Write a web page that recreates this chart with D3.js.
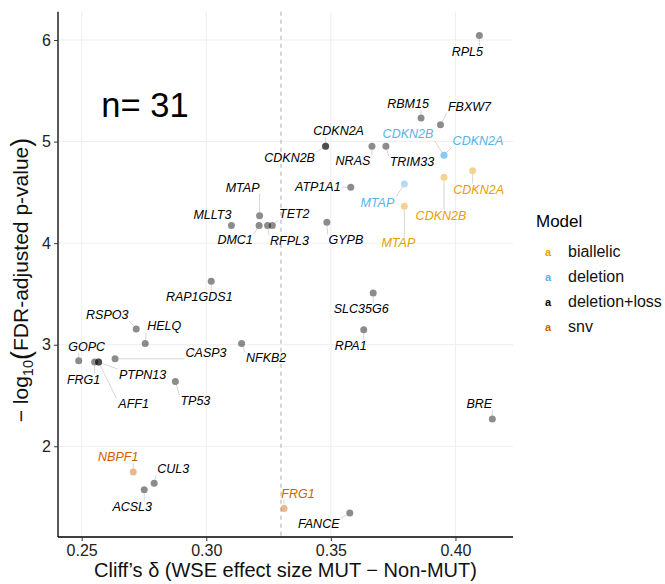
<!DOCTYPE html>
<html>
<head>
<meta charset="utf-8">
<script src="https://d3js.org/d3.v7.min.js"></script>
<style>
  body { margin: 0; background: #fff; }
  svg text { font-family: "Liberation Sans", Arial, Helvetica, sans-serif; }
</style>
</head>
<body>
<svg class="chart"></svg>
<script>
// genes, the model they come from, effect size and -log10 FDR
var genes = ["RPL5", "RBM15", "FBXW7", "CDKN2A", "CDKN2B", "NRAS", "TRIM33", "CDKN2B", "CDKN2A",
  "CDKN2A", "CDKN2B", "MTAP", "MTAP", "ATP1A1", "MTAP", "MLLT3", "DMC1", "RFPL3", "TET2", "GYPB",
  "RAP1GDS1", "SLC35G6", "RSPO3", "HELQ", "RPA1", "NFKB2", "GOPC", "CASP3", "FRG1", "PTPN13",
  "AFF1", "TP53", "BRE", "NBPF1", "CUL3", "ACSL3", "FRG1", "FANCE"];

var models = ["deletion+loss", "deletion+loss", "deletion+loss", "deletion+loss", "deletion+loss",
  "deletion+loss", "deletion+loss", "deletion", "deletion", "biallelic", "biallelic", "deletion",
  "biallelic", "deletion+loss", "deletion+loss", "deletion+loss", "deletion+loss", "deletion+loss",
  "deletion+loss", "deletion+loss", "deletion+loss", "deletion+loss", "deletion+loss", "deletion+loss",
  "deletion+loss", "deletion+loss", "deletion+loss", "deletion+loss", "deletion+loss", "deletion+loss",
  "deletion+loss", "deletion+loss", "deletion+loss", "snv", "deletion+loss", "deletion+loss", "snv",
  "deletion+loss"];

var cliffDelta = [0.4096, 0.3862, 0.3940, 0.3479, 0.3479, 0.3665, 0.3721, 0.3954, 0.3954,
  0.4069, 0.3954, 0.3795, 0.3795, 0.3580, 0.3214, 0.3101, 0.3212, 0.3246, 0.3265, 0.3484,
  0.3020, 0.3670, 0.2719, 0.2755, 0.3632, 0.3142, 0.2488, 0.2634, 0.2552, 0.2568,
  0.2568, 0.2876, 0.4148, 0.2707, 0.2791, 0.2751, 0.3312, 0.3576];

var negLogFdr = [6.044, 5.233, 5.167, 4.954, 4.954, 4.954, 4.954, 4.865, 4.865,
  4.714, 4.648, 4.583, 4.363, 4.550, 4.271, 4.175, 4.175, 4.175, 4.175, 4.205,
  3.624, 3.509, 3.155, 3.013, 3.148, 3.013, 2.842, 2.862, 2.829, 2.829,
  2.829, 2.638, 2.268, 1.746, 1.637, 1.571, 1.387, 1.342];

var modelNames = ["biallelic", "deletion", "deletion+loss", "snv"];
var modelColors = ["#E69F00", "#56B4E9", "#000000", "#D55E00"];
var xTicks = [0.25, 0.30, 0.35, 0.40];
var yTicks = [2, 3, 4, 5, 6];
var cutoff = 0.33;
var nGenes = 31;

// where the repelled labels ended up, pixels from their point (dx, dy of baseline centre)
var labelNudge = [[-12, 20], [-13, -10], [29, -14], [13, -11], [-36, 16], [-19, 19], [26, 20],
  [-36, -17], [34, -10], [6, 23], [-3, 43], [-27, 23], [-6, 41], [-33, 4], [-17, -24], [-19, -6],
  [-24, 19], [22, 20], [22, -7], [19, 22], [-12, 20], [-12, 20], [-29, -10], [19, -13], [-13, 20],
  [24.5, 19], [8, -10], [91, -2], [-11, 22], [44, 17], [35, 46], [20, 24], [-13, -11], [-15, -11],
  [19, -10], [-12, 21], [14, -11], [-31, 15]];

var width = 665, height = 584;
var plotLeft = 58, plotRight = 513, plotTop = 11.7, plotBottom = 537;

var svg = d3.select(".chart")
    .attr("width", width)
    .attr("height", height);

var color = d3.scaleOrdinal().domain(modelNames).range(modelColors);

// 5% expansion like ggplot
var xExt = d3.extent(cliffDelta), yExt = d3.extent(negLogFdr);
var xPad = (xExt[1] - xExt[0]) * 0.05, yPad = (yExt[1] - yExt[0]) * 0.05;

var x = d3.scaleLinear()
    .domain([xExt[0] - xPad, xExt[1] + xPad])
    .range([plotLeft, plotRight]);

var y = d3.scaleLinear()
    .domain([yExt[0] - yPad, yExt[1] + yPad])
    .range([plotBottom, plotTop]);

// grid
svg.append("g").selectAll("line")
    .data(xTicks)
    .join("line")
    .attr("x1", d => x(d)).attr("x2", d => x(d))
    .attr("y1", plotTop).attr("y2", plotBottom)
    .attr("stroke", "#eeeeee").attr("stroke-width", 1);

svg.append("g").selectAll("line")
    .data(yTicks)
    .join("line")
    .attr("x1", plotLeft).attr("x2", plotRight)
    .attr("y1", d => y(d)).attr("y2", d => y(d))
    .attr("stroke", "#eeeeee").attr("stroke-width", 1);

// cutoff line
svg.append("line")
    .attr("x1", x(cutoff)).attr("x2", x(cutoff))
    .attr("y1", plotTop).attr("y2", plotBottom)
    .attr("stroke", "#b3b3b3")
    .attr("stroke-width", 1.1)
    .attr("stroke-dasharray", "4,4");

var pts = genes.map(function(g, i) {
  return { gene: g, model: models[i], px: x(cliffDelta[i]), py: y(negLogFdr[i]),
    lx: x(cliffDelta[i]) + labelNudge[i][0], ly: y(negLogFdr[i]) + labelNudge[i][1] };
});

var segLayer = svg.append("g");
var pointLayer = svg.append("g");
var labelLayer = svg.append("g");

pointLayer.selectAll("circle")
    .data(pts)
    .join("circle")
    .attr("cx", d => d.px)
    .attr("cy", d => d.py)
    .attr("r", 3.5)
    .attr("fill", d => color(d.model))
    .attr("fill-opacity", 0.45);

var labels = labelLayer.selectAll("text")
    .data(pts)
    .join("text")
    .attr("x", d => d.lx)
    .attr("y", d => d.ly)
    .attr("text-anchor", "middle")
    .style("font-size", "12.5px")
    .style("font-style", "italic")
    .style("fill", d => color(d.model))
    .text(d => d.gene);

// segments from point to nearest edge of the label box
labels.each(function(d) {
  var b = this.getBBox();
  var x0 = b.x - 1, x1 = b.x + b.width + 1, y0 = b.y + 1, y1 = b.y + b.height - 1;
  var cx = Math.max(x0, Math.min(d.px, x1));
  var cy = Math.max(y0, Math.min(d.py, y1));
  var dx = cx - d.px, dy = cy - d.py;
  var len = Math.sqrt(dx * dx + dy * dy);
  if (len < 6) return;
  segLayer.append("line")
      .attr("x1", d.px + dx / len * 3.5)
      .attr("y1", d.py + dy / len * 3.5)
      .attr("x2", cx)
      .attr("y2", cy)
      .attr("stroke", "#c4c4c4")
      .attr("stroke-width", 0.7);
});

// axes
var xAxis = svg.append("g")
    .attr("transform", "translate(0," + plotBottom + ")")
    .call(d3.axisBottom(x).tickValues(xTicks).tickFormat(d3.format(".2f")).tickSize(4).tickSizeOuter(0));

var yAxis = svg.append("g")
    .attr("transform", "translate(" + plotLeft + ",0)")
    .call(d3.axisLeft(y).tickValues(yTicks).tickFormat(d3.format("d")).tickSize(4).tickSizeOuter(0));

[xAxis, yAxis].forEach(function(a) {
  a.select(".domain").attr("stroke", "#000").attr("stroke-width", 1.3);
  a.selectAll(".tick line").attr("stroke", "#333").attr("stroke-width", 1);
  a.selectAll(".tick text")
      .style("font-size", "16px")
      .style("font-family", "Liberation Sans, Arial, sans-serif")
      .attr("fill", "#222");
});
xAxis.select(".domain").attr("d", "M" + plotLeft + ",0H" + plotRight);
yAxis.select(".domain").attr("d", "M0," + plotTop + "V" + plotBottom);
xAxis.selectAll(".tick text").attr("dy", "0.71em").attr("y", 8);
yAxis.selectAll(".tick text").attr("x", -7);

// axis titles
svg.append("text")
    .attr("x", (plotLeft + plotRight) / 2)
    .attr("y", 577)
    .attr("text-anchor", "middle")
    .style("font-size", "20px")
    .style("fill", "#111")
    .text("Cliff\u2019s \u03b4 (WSE effect size MUT \u2212 Non-MUT)");

var yTitle = svg.append("text")
    .attr("transform", "translate(28,280) rotate(-90)")
    .attr("text-anchor", "middle")
    .style("font-size", "21px")
    .style("fill", "#111");
yTitle.append("tspan").text("\u2212 log");
yTitle.append("tspan").attr("dy", 5).style("font-size", "14.5px").text("10");
yTitle.append("tspan").attr("dy", -3).style("font-size", "27px").text("(");
yTitle.append("tspan").attr("dy", -2).text("FDR-adjusted p-value");
yTitle.append("tspan").attr("dy", 2).style("font-size", "27px").text(")");

// n label
svg.append("text")
    .attr("x", 145)
    .attr("y", 117)
    .attr("text-anchor", "middle")
    .style("font-size", "34.5px")
    .style("fill", "#000")
    .text("n= " + nGenes);

// legend
var legend = svg.append("g").attr("transform", "translate(536,0)");

legend.append("text")
    .attr("x", 0)
    .attr("y", 227)
    .style("font-size", "17px")
    .style("fill", "#000")
    .text("Model");

var items = legend.selectAll("g.item")
    .data(modelNames)
    .join("g")
    .attr("class", "item")
    .attr("transform", (d, i) => "translate(0," + (251.5 + i * 25) + ")");

items.append("text")
    .attr("x", 12)
    .attr("y", 4)
    .attr("text-anchor", "middle")
    .style("font-size", "11px")
    .style("font-weight", "bold")
    .style("fill", d => color(d))
    .text("a");

items.append("text")
    .attr("x", 32)
    .attr("y", 5.5)
    .style("font-size", "16px")
    .style("fill", "#111")
    .text(d => d);
</script>
</body>
</html>
